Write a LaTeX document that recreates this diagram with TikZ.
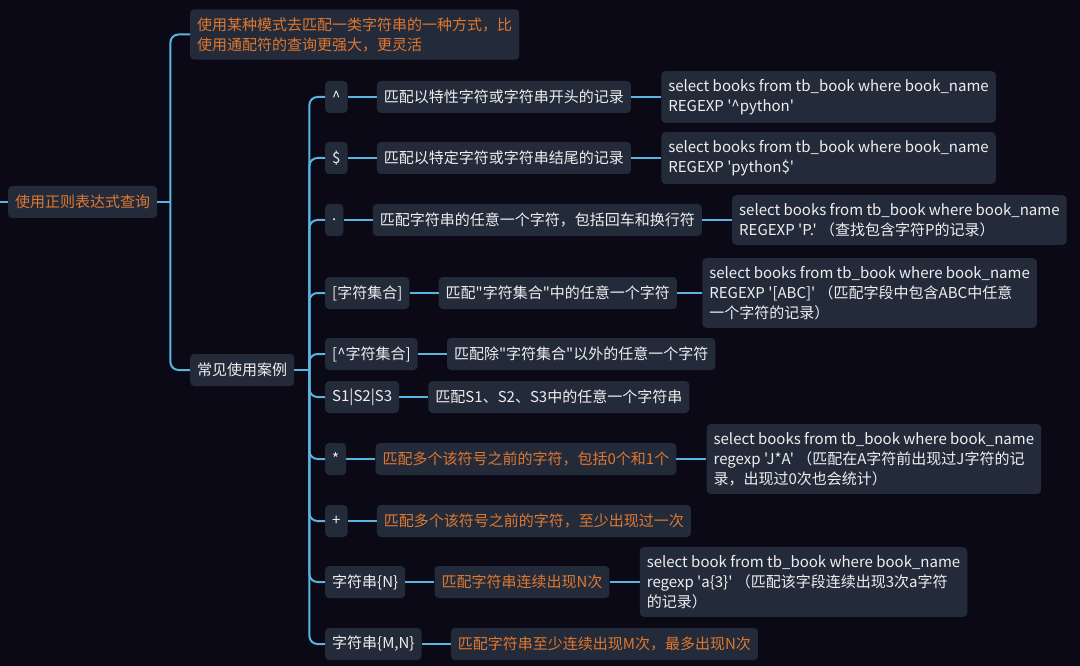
\documentclass[tikz,border=0pt]{standalone}
\usepackage{fontspec}
\newfontfamily\cjkfont{Noto Sans CJK SC}
\usetikzlibrary{positioning}
\definecolor{bgcol}{HTML}{0B0915}
\definecolor{boxcol}{HTML}{232B3B}
\definecolor{linkcol}{HTML}{5AB4E0}
\definecolor{txtorange}{HTML}{E0772E}
\definecolor{txtwhite}{HTML}{EEEEEE}
\tikzset{
  topic/.style={fill=boxcol, rounded corners=4pt, inner xsep=7pt, inner ysep=0pt,
    minimum height=32pt, font=\cjkfont\fontsize{15}{20}\selectfont,
    text=txtwhite, align=left},
  hot/.style={text=txtorange},
  multi/.style={inner ysep=8pt},
  link/.style={draw=linkcol, line width=2pt},
}
\begin{document}
\begin{tikzpicture}[x=1pt, y=-1pt, node distance=29pt]
        % background
        \fill[bgcol] (0,0) rectangle (1080,666);
        \useasboundingbox (0,0) rectangle (1080,666);
        % main topics
        \node[topic,hot,anchor=west] (root) at (8,202) {使用正则表达式查询};
        \node[topic,hot,multi,anchor=west] (intro) at (190,34.5)
          {使用某种模式去匹配一类字符串的一种方式，比\\使用通配符的查询更强大，更灵活};
        \node[topic,anchor=west] (cases) at (190,370) {常见使用案例};
        % keys
        \node[topic,anchor=west] (kA) at (325,97)  {\textasciicircum};
        \node[topic,anchor=west] (kB) at (325,158) {\$};
        \node[topic,anchor=west] (kC) at (325,220) {.};
        \node[topic,anchor=west] (kD) at (325,293) {[字符集合]};
        \node[topic,anchor=west] (kE) at (325,354) {[\textasciicircum 字符集合]};
        \node[topic,anchor=west] (kF) at (325,397) {S1|S2|S3};
        \node[topic,anchor=west] (kG) at (325,459) {*};
        \node[topic,anchor=west] (kH) at (325,521) {+};
        \node[topic,anchor=west] (kI) at (325,582) {字符串\{N\}};
        \node[topic,anchor=west] (kJ) at (325,644) {字符串\{M,N\}};
        % descriptions
        \node[topic,right=of kA] (dA) {匹配以特性字符或字符串开头的记录};
        \node[topic,right=of kB] (dB) {匹配以特定字符或字符串结尾的记录};
        \node[topic,right=of kC] (dC) {匹配字符串的任意一个字符，包括回车和换行符};
        \node[topic,right=of kD] (dD) {匹配"字符集合"中的任意一个字符};
        \node[topic,right=of kE] (dE) {匹配除"字符集合"以外的任意一个字符};
        \node[topic,right=of kF] (dF) {匹配S1、S2、S3中的任意一个字符串};
        \node[topic,hot,right=of kG] (dG) {匹配多个该符号之前的字符，包括0个和1个};
        \node[topic,hot,right=of kH] (dH) {匹配多个该符号之前的字符，至少出现过一次};
        \node[topic,hot,right=of kI] (dI) {匹配字符串连续出现N次};
        \node[topic,hot,right=of kJ] (dJ) {匹配字符串至少连续出现M次，最多出现N次};
        % examples
        \node[topic,multi,right=30pt of dA] (eA)
          {select books from tb\_book where book\_name\\REGEXP '\textasciicircum python'};
        \node[topic,multi,right=30pt of dB] (eB)
          {select books from tb\_book where book\_name\\REGEXP 'python\$'};
        \node[topic,multi,right=30pt of dC] (eC)
          {select books from tb\_book where book\_name\\REGEXP 'P.' （查找包含字符P的记录）};
        \node[topic,multi,right=25pt of dD] (eD)
          {select books from tb\_book where book\_name\\REGEXP '[ABC]' （匹配字段中包含ABC中任意\\一个字符的记录）};
        \node[topic,multi,right=30pt of dG] (eG)
          {select books from tb\_book where book\_name\\regexp 'J*A' （匹配在A字符前出现过J字符的记\\录，出现过0次也会统计）};
        \node[topic,multi,right=30pt of dI] (eI)
          {select book from tb\_book where book\_name\\regexp 'a\{3\}' （匹配该字段连续出现3次a字符\\的记录）};
        % connectors
        \coordinate (stub) at (0,202);
        \coordinate (sp1) at ([xshift=13pt]root.east);
        \coordinate (sp2) at ([xshift=15pt]cases.east);
        \draw[link] (stub) -- (root.west);
        \draw[link] (root.east) -- (sp1);
        \draw[link,rounded corners=8pt] (sp1) |- (intro.west);
        \draw[link,rounded corners=8pt] (sp1) |- (cases.west);
        \draw[link] (cases.east) -- (sp2);
        \foreach \k in {A,B,C,D,E,F,G,H,I,J} {
          \draw[link,rounded corners=8pt] (sp2) |- (k\k.west);
          \draw[link] (k\k.east) -- (d\k.west);
        }
        \foreach \k in {A,B,C,D,G,I}
          \draw[link] (d\k.east) -- (e\k.west);
\end{tikzpicture}
\end{document}
